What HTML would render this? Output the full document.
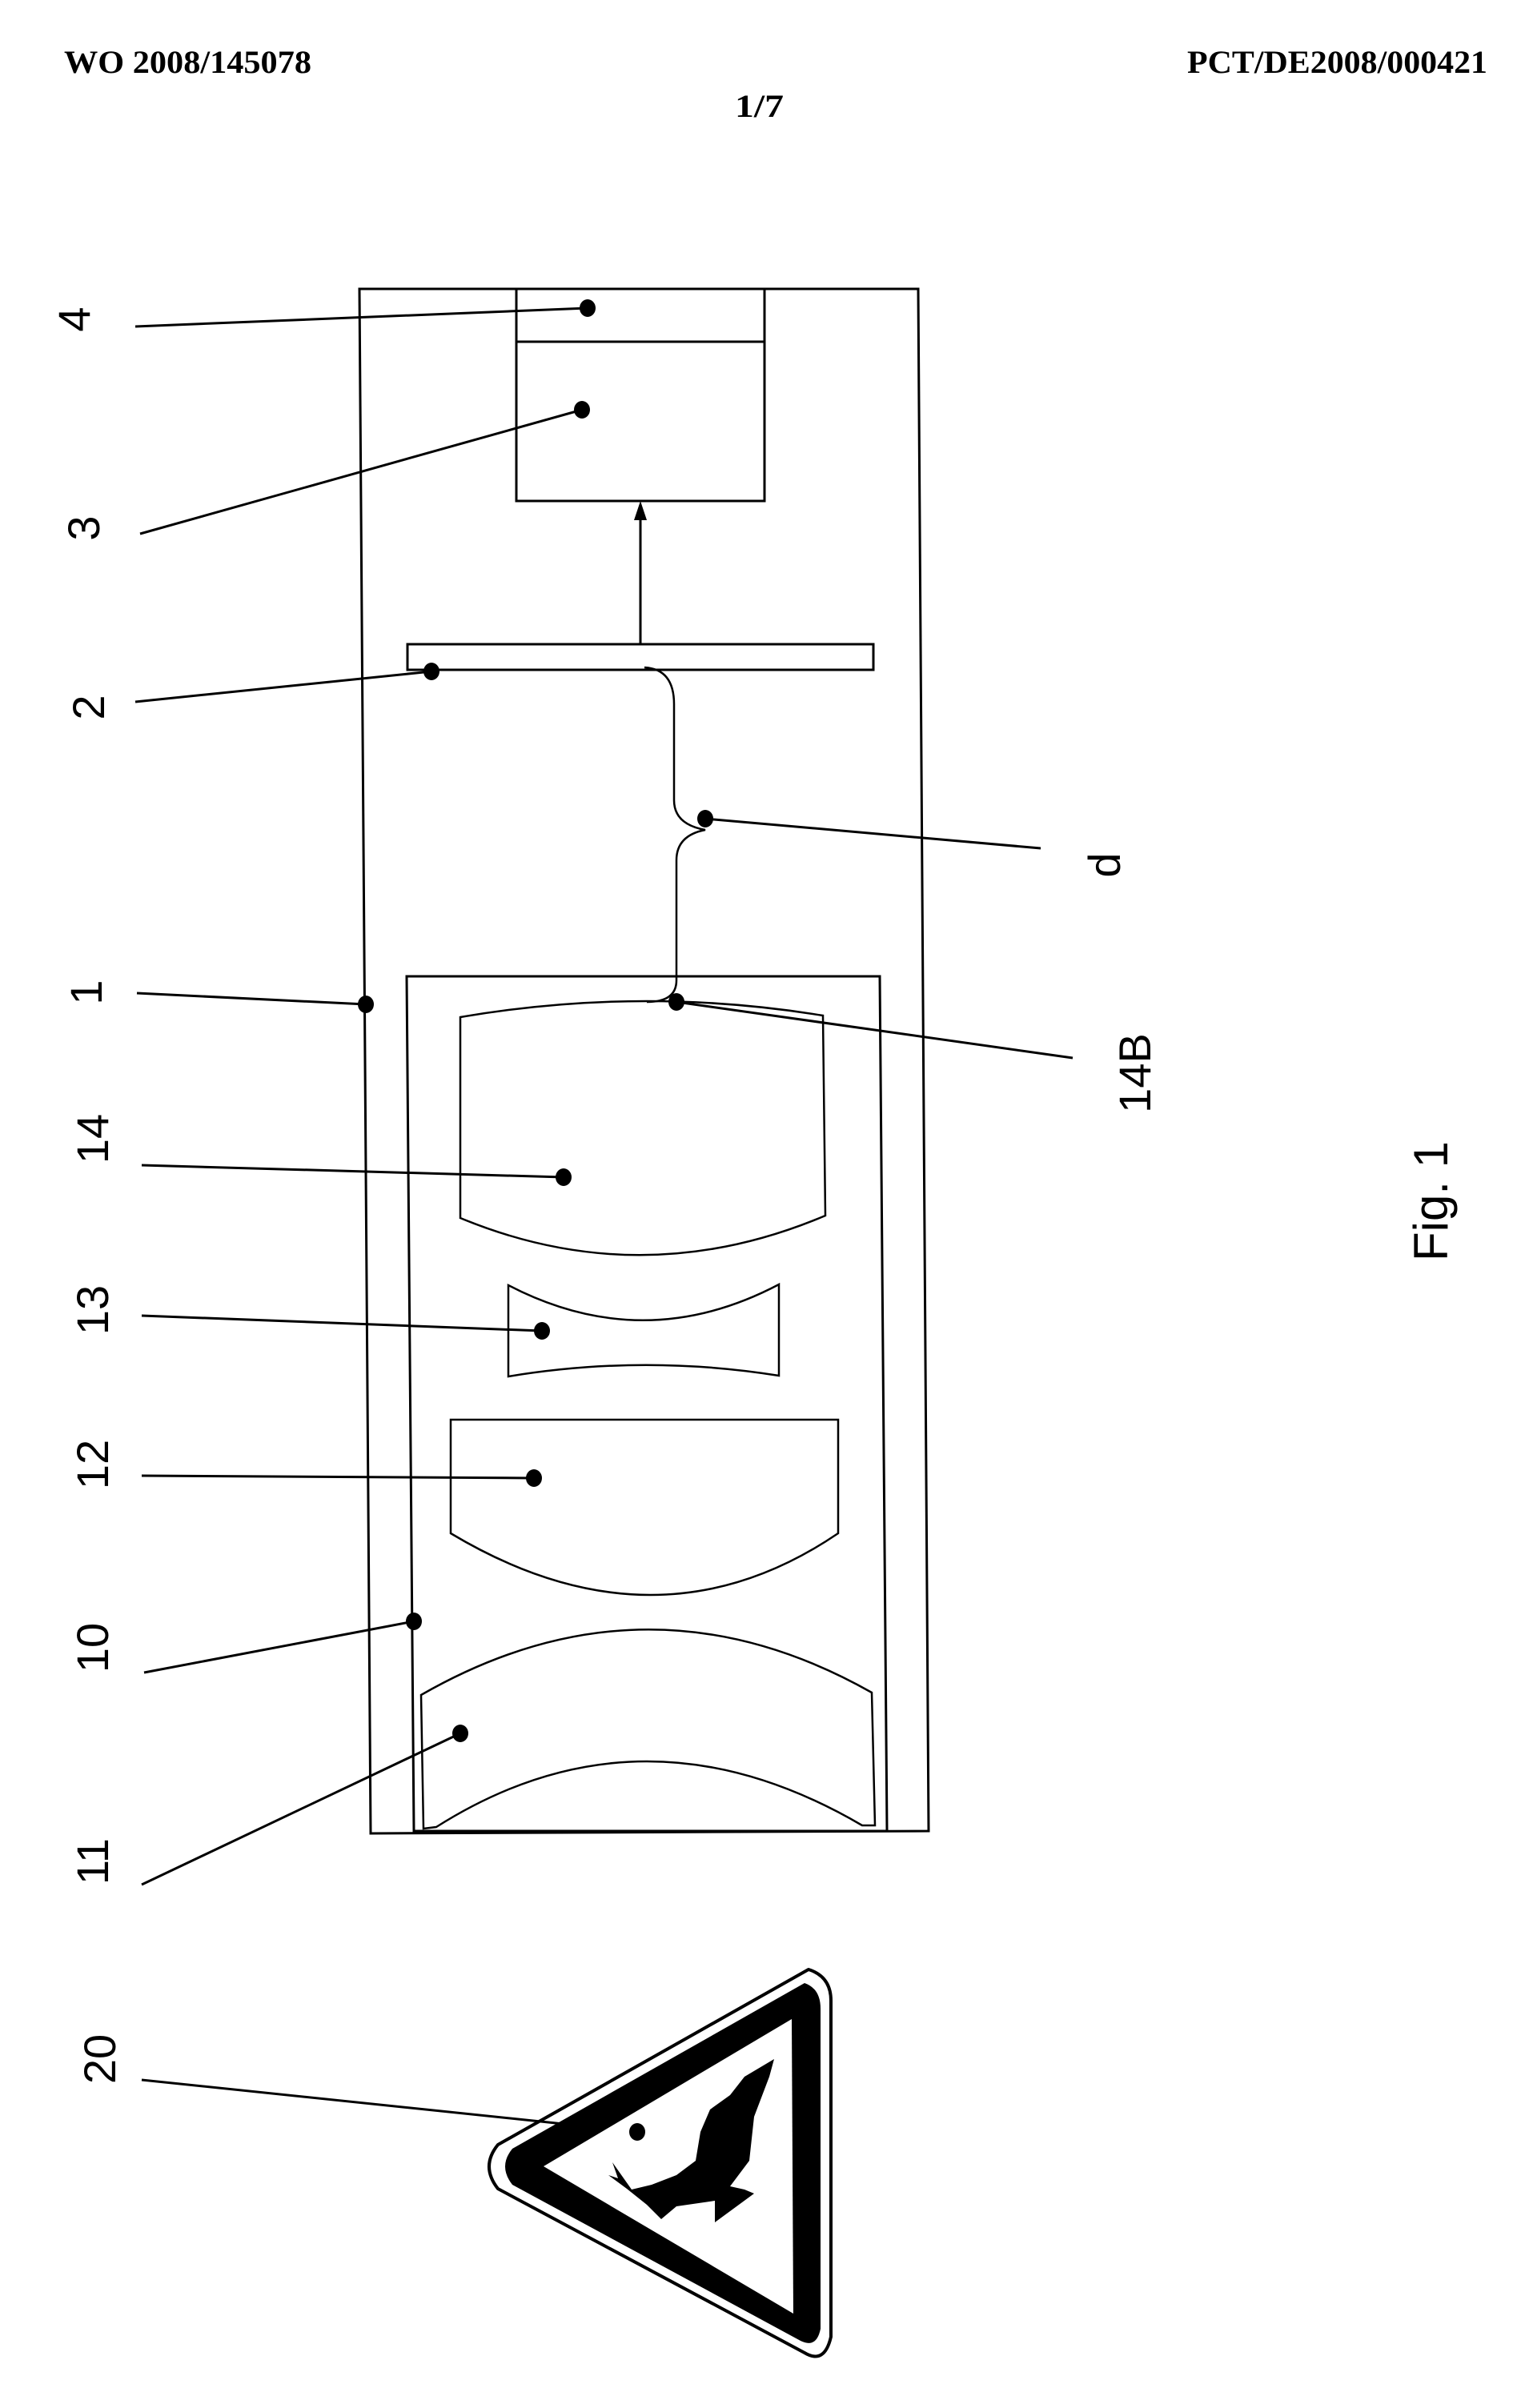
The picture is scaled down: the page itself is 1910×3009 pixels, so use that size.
<!DOCTYPE html>
<html><head><meta charset="utf-8"><style>html,body{margin:0;padding:0;background:#fff}svg{display:block}</style></head>
<body>
<svg width="1910" height="3009" viewBox="0 0 1910 3009" xmlns="http://www.w3.org/2000/svg">
<rect width="1910" height="3009" fill="#fff"/>
<g font-family="Liberation Serif, serif" font-weight="bold" fill="#000">
<text x="80" y="91" font-size="40" textLength="309" lengthAdjust="spacingAndGlyphs">WO 2008/145078</text>
<text x="1483" y="91" font-size="40" textLength="375" lengthAdjust="spacingAndGlyphs">PCT/DE2008/000421</text>
<text x="918" y="146" font-size="40" textLength="61" lengthAdjust="spacingAndGlyphs">1/7</text>
</g>
<g fill="none" stroke="#000" stroke-width="3">
<!-- outer housing 1 -->
<polygon points="449,361 1147,361 1160,2288 463,2291"/>
<!-- box 3/4 -->
<rect x="645" y="361" width="310" height="265"/>
<line x1="645" y1="427" x2="955" y2="427"/>
<!-- arrow -->
<line x1="800" y1="805" x2="800" y2="640"/>
<!-- plate 2 -->
<rect x="509" y="805" width="582" height="32"/>
<!-- brace -->
<path d="M805,834 Q842,836 842,880 L842,1000 Q842,1030 881,1037 Q845,1044 845,1075 L845,1225 Q845,1252 808,1252" stroke-width="2.5"/>
<!-- inner housing 10 -->
<polygon points="508,1220 1099,1220 1108,2288 517,2288"/>
<!-- lens 14 -->
<path d="M575,1271 Q802,1232 1028,1269 L1031,1519 Q802,1616 575,1522 Z" stroke-width="2.5"/>
<!-- lens 13 -->
<path d="M635,1606 Q804,1694 973,1605 L973,1719 Q804,1692 635,1720 Z" stroke-width="2.5"/>
<!-- lens 12 -->
<path d="M563,1774 L1047,1774 L1047,1916 Q820,2070 563,1916 Z" stroke-width="2.5"/>
<!-- lens 11 -->
<path d="M526,2118 Q808,1956 1089,2115 L1093,2281 L1077,2281 Q802,2120 545,2283 L529,2285 Z" stroke-width="2.5"/>
</g>
<polygon points="800,626 792,650 808,650" fill="#000"/>
<!-- leaders -->
<g stroke="#000" stroke-width="3" fill="none">
<line x1="169" y1="408" x2="734" y2="385"/>
<line x1="175" y1="667" x2="727" y2="512"/>
<line x1="169" y1="877" x2="539" y2="839"/>
<line x1="1300" y1="1060" x2="881" y2="1023"/>
<line x1="171" y1="1241" x2="457" y2="1255"/>
<line x1="1340" y1="1322" x2="845" y2="1252"/>
<line x1="177" y1="1456" x2="704" y2="1471"/>
<line x1="177" y1="1644" x2="677" y2="1663"/>
<line x1="177" y1="1844" x2="667" y2="1847"/>
<line x1="180" y1="2090" x2="517" y2="2026"/>
<line x1="177" y1="2355" x2="575" y2="2166"/>
<polyline points="177,2599 685,2652 796,2664"/>
</g>
<g fill="#000">
<ellipse cx="734" cy="385" rx="10" ry="11"/>
<ellipse cx="727" cy="512" rx="10" ry="11"/>
<ellipse cx="539" cy="839" rx="10" ry="11"/>
<ellipse cx="881" cy="1023" rx="10" ry="11"/>
<ellipse cx="457" cy="1255" rx="10" ry="11"/>
<ellipse cx="845" cy="1252" rx="10" ry="11"/>
<ellipse cx="704" cy="1471" rx="10" ry="11"/>
<ellipse cx="677" cy="1663" rx="10" ry="11"/>
<ellipse cx="667" cy="1847" rx="10" ry="11"/>
<ellipse cx="517" cy="2026" rx="10" ry="11"/>
<ellipse cx="575" cy="2166" rx="10" ry="11"/>
</g>
<!-- sign 20 -->
<path d="M1010,2461 Q1038,2470 1038,2500 L1038,2920 Q1030,2955 1005,2940 L622,2735 Q600,2707 622,2680 Z" fill="none" stroke="#000" stroke-width="4" stroke-linejoin="round"/>
<path d="M1005,2478 Q1025,2485 1025,2510 L1025,2910 Q1020,2935 1000,2925 L640,2730 Q622,2707 640,2685 Z" fill="#000"/>
<polygon points="989,2523 991,2891 679,2707" fill="#fff"/>
<path d="M967,2573 L930,2595 L912,2618 L887,2636 L875,2664 L869,2700 L845,2718 L814,2730 L789,2736 L765,2702 L772,2722 L760,2718 L783,2735 L808,2755 L826,2773 L845,2757 L893,2750 L893,2777 L942,2741 L930,2736 L912,2732 L936,2700 L942,2645 L961,2595 Z" fill="#000"/>
<ellipse cx="796" cy="2664" rx="10" ry="11" fill="#000"/>
<!-- labels -->
<g font-family="Liberation Sans, sans-serif" font-size="56" fill="#000" text-anchor="middle">
<text transform="translate(112,399) rotate(-90)">4</text>
<text transform="translate(124,660) rotate(-90)">3</text>
<text transform="translate(130,884) rotate(-90)">2</text>
<text transform="translate(127,1240) rotate(-90)">1</text>
<text transform="translate(135,1423) rotate(-90)">14</text>
<text transform="translate(135,1637) rotate(-90)">13</text>
<text transform="translate(135,1830) rotate(-90)">12</text>
<text transform="translate(135,2059) rotate(-90)">10</text>
<text transform="translate(135,2326) rotate(-90)">11</text>
<text transform="translate(144,2573) rotate(-90)">20</text>
<text transform="translate(1399,1081) rotate(-90)">d</text>
<text transform="translate(1437,1341) rotate(-90)">14B</text>
<text transform="translate(1808,1501) rotate(-90)" font-size="60">Fig. 1</text>
</g>
</svg>
</body></html>
